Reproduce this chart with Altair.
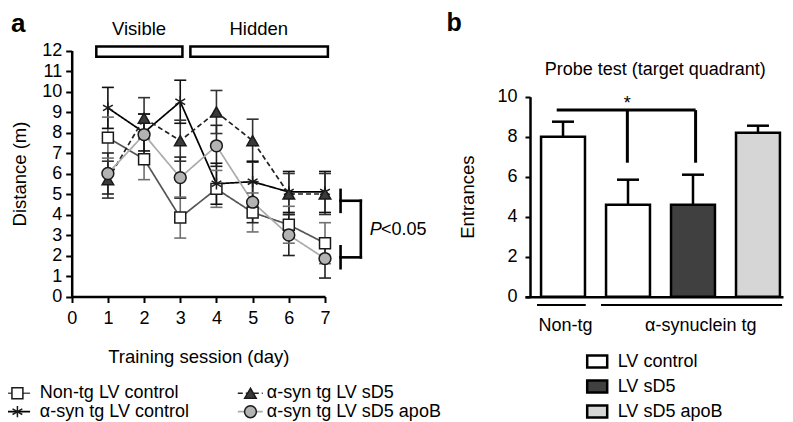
import altair as alt
import pandas as pd

FONT = "Liberation Sans"

# ---------------- panel a : water maze distance ----------------
days = [1, 2, 3, 4, 5, 6, 7]
x_ticks_a = [0, 1, 2, 3, 4, 5, 6, 7]
y_ticks_a = [0, 1, 2, 3, 4, 5, 6, 7, 8, 9, 10, 11, 12]
series = ["Non-tg LV control", "α-syn tg LV control", "α-syn tg LV sD5", "α-syn tg LV sD5 apoB"]

nontg_mean = [7.75, 6.7, 3.85, 5.25, 4.1, 3.5, 2.6]
nontg_err = [1.0, 1.0, 1.0, 0.9, 0.95, 0.9, 1.0]
syn_ctrl_mean = [9.2, 8.0, 9.5, 5.5, 5.6, 5.1, 5.1]
syn_ctrl_err = [1.0, 0.9, 1.05, 1.0, 1.0, 1.0, 1.0]
syn_sd5_mean = [5.7, 8.7, 7.6, 9.0, 7.6, 5.0, 5.0]
syn_sd5_err = [0.9, 1.0, 1.0, 1.05, 1.05, 1.0, 1.0]
syn_apob_mean = [6.0, 7.9, 5.8, 7.35, 4.6, 3.0, 1.85]
syn_apob_err = [1.0, 1.0, 1.0, 1.0, 1.0, 1.0, 0.95]

phase_labels = ["Visible", "Hidden"]
phase_start = [0.68, 3.28]
phase_end = [3.06, 7.08]

# ---------------- panel b : probe test ----------------
probe_pos = [1, 2, 3, 4]
probe_treat = ["LV control", "LV control", "LV sD5", "LV sD5 apoB"]
probe_mean = [8.0, 4.6, 4.6, 8.2]
probe_err = [0.75, 1.25, 1.5, 0.35]
treat_levels = ["LV control", "LV sD5", "LV sD5 apoB"]
group_labels = ["Non-tg", "α-synuclein tg"]

# ---------------- layout (pixels / data-unit placements) ----------------
W, H = 777, 414
xA = alt.Scale(domain=[0, 7], range=[63.7, 317], nice=False, zero=False)
yA = alt.Scale(domain=[0, 12], range=[288.5, 42.5], nice=False, zero=False)
xB = alt.Scale(domain=[0.415, 4.385], range=[517, 775], nice=False, zero=False)
yB = alt.Scale(domain=[0, 10], range=[288.7, 88.7], nice=False, zero=False)

axXA = alt.Axis(orient="bottom", offset=288.5 - H, values=x_ticks_a, title="Training session (day)",
                labelFlush=False, labelPadding=7, titlePadding=20, format="d")
axYA = alt.Axis(orient="left", offset=-63.7, values=y_ticks_a, title="Distance (m)",
                labelPadding=4, titlePadding=12, format="d")
axXB = alt.Axis(orient="bottom", offset=288.7 - H, labels=False, ticks=False, title=None)
axYB = alt.Axis(orient="left", offset=-522, values=[0, 2, 4, 6, 8, 10], title="Entrances",
                labelPadding=8, titlePadding=19, format="d", tickSize=5)


def XA(f):
    return alt.X(f, type="quantitative", scale=xA, axis=axXA)


def YA(f):
    return alt.Y(f, type="quantitative", scale=yA, axis=axYA)


def XB(f):
    return alt.X(f, type="quantitative", scale=xB, axis=axXB)


def YB(f):
    return alt.Y(f, type="quantitative", scale=yB, axis=axYB)


# ---- panel a tables
rows = []
for s, m, e in zip(series,
                   [nontg_mean, syn_ctrl_mean, syn_sd5_mean, syn_apob_mean],
                   [nontg_err, syn_ctrl_err, syn_sd5_err, syn_apob_err]):
    for d, mv, ev in zip(days, m, e):
        rows.append(dict(series=s, day=d, mean=mv, lo=mv - ev, hi=mv + ev))
dfa = pd.DataFrame(rows)

line_stroke = alt.Scale(domain=series, range=["#555555", "#000000", "#222222", "#ababab"])
line_dash = alt.Scale(domain=series, range=[[1, 0], [1, 0], [5, 3], [1, 0]])
line_width = alt.Scale(domain=series, range=[1.7, 1.7, 1.7, 3.2])
eb_color = alt.Scale(domain=series, range=["#707070", "#111111", "#333333", "#222222"])
asterisk = "M0,-1V1M-0.87,-0.5L0.87,0.5M-0.87,0.5L0.87,-0.5"
pt_shape = alt.Scale(domain=series, range=["square", asterisk, "triangle-up", "circle"])
pt_fill = alt.Scale(domain=series, range=["#ffffff", "#ffffff", "#3a3a3a", "#b3b3b3"])
pt_size = alt.Scale(domain=series, range=[120, 140, 120, 160])

enc_line = dict(
    stroke=alt.Stroke("series:N", scale=line_stroke, legend=None),
    strokeDash=alt.StrokeDash("series:N", scale=line_dash, legend=None),
    strokeWidth=alt.StrokeWidth("series:N", scale=line_width, legend=None),
)
enc_pt = dict(
    shape=alt.Shape("series:N", scale=pt_shape, legend=None),
    fill=alt.Fill("series:N", scale=pt_fill, legend=None),
    size=alt.Size("series:N", scale=pt_size, legend=None),
)

base_a = alt.Chart(dfa)
lines_a = base_a.mark_line().encode(x=XA("day"), y=YA("mean"), **enc_line)
eb_a = base_a.mark_rule(strokeWidth=1.6).encode(
    x=XA("day"), y=YA("lo"), y2="hi", color=alt.Color("series:N", scale=eb_color, legend=None))
cap_lo = base_a.mark_rule(strokeWidth=1.6, xOffset=-6, x2Offset=6).encode(
    x=XA("day"), x2="day", y=YA("lo"), color=alt.Color("series:N", scale=eb_color, legend=None))
cap_hi = base_a.mark_rule(strokeWidth=1.6, xOffset=-6, x2Offset=6).encode(
    x=XA("day"), x2="day", y=YA("hi"), color=alt.Color("series:N", scale=eb_color, legend=None))
pts_a = base_a.mark_point(filled=True, stroke="#1a1a1a", strokeWidth=1.5, opacity=1).encode(
    x=XA("day"), y=YA("mean"), **enc_pt)

# phase boxes
dfp = pd.DataFrame(dict(label=phase_labels, x1=phase_start, x2=phase_end,
                        y1=[11.7, 11.7], y2=[12.2, 12.2], tx=[1.86, 5.17], ty=[13.05, 13.05]))
boxes = alt.Chart(dfp).mark_rect(fill="white", stroke="black", strokeWidth=2.5).encode(
    x=XA("x1"), x2="x2", y=YA("y1"), y2="y2")
box_txt = alt.Chart(dfp).mark_text(font=FONT, fontSize=18.5, baseline="middle").encode(
    x=XA("tx"), y=YA("ty"), text="label")

# significance bracket for panel a
dfbr = pd.DataFrame(dict(x1=[7.43, 7.43, 7.43, 7.43, 7.99], x2=[7.43, 7.43, 7.99, 7.99, 7.99],
                         y1=[4.13, 1.38, 4.67, 1.91, 1.91], y2=[5.2, 2.45, 4.67, 1.91, 4.67]))
bracket_a = alt.Chart(dfbr).mark_rule(stroke="black", strokeWidth=2.6, strokeCap="square").encode(
    x=XA("x1"), x2="x2", y=YA("y1"), y2="y2")
dfpv = pd.DataFrame(dict(t=["P", "<0.05"], x=[8.24, 8.55], y=[3.24, 3.24], it=["italic", "normal"]))
p_txt = alt.Chart(dfpv).transform_filter("datum.it == 'italic'").mark_text(
    font=FONT, fontSize=18, fontStyle="italic", align="left", baseline="middle").encode(
    x=XA("x"), y=YA("y"), text="t")
p_txt2 = alt.Chart(dfpv).transform_filter("datum.it == 'normal'").mark_text(
    font=FONT, fontSize=18, align="left", baseline="middle").encode(
    x=XA("x"), y=YA("y"), text="t")

# panel letter a
dfl_a = pd.DataFrame(dict(t=["a"], x=[-1.48], y=[13.3]))
letter_a = alt.Chart(dfl_a).mark_text(font=FONT, fontSize=26, fontWeight="bold", baseline="middle").encode(
    x=XA("x"), y=YA("y"), text="t")

# legend for panel a (placed in panel-a data units below the axis)
leg_rows = [-4.72, -5.62]
leg_cols = [(-1.85, -1.5, -1.15, -0.88), (4.59, 4.94, 5.28, 5.39)]
leg_slot = [(0, 0), (0, 1), (1, 0), (1, 1)]
lrows = []
for s, (c, r) in zip(series, leg_slot):
    x1, xc, x2, tx = leg_cols[c]
    lrows.append(dict(series=s, lx1=x1, lx2=x2, lxc=xc, tx=tx, ly=leg_rows[r]))
dfleg = pd.DataFrame(lrows)
leg_lines = alt.Chart(dfleg).mark_rule().encode(x=XA("lx1"), x2="lx2", y=YA("ly"), **enc_line)
leg_pts = alt.Chart(dfleg).mark_point(filled=True, stroke="#1a1a1a", strokeWidth=1.5, opacity=1).encode(
    x=XA("lxc"), y=YA("ly"), **enc_pt)
leg_txt = alt.Chart(dfleg).mark_text(font=FONT, fontSize=18, align="left", baseline="middle").encode(
    x=XA("tx"), y=YA("ly"), text="series")

layer_a = alt.layer(lines_a, eb_a, cap_lo, cap_hi, pts_a, boxes, box_txt, bracket_a, p_txt, p_txt2,
                    letter_a, leg_lines, leg_pts, leg_txt)

# ---- panel b
dfb = pd.DataFrame(dict(pos=probe_pos, treat=probe_treat, mean=probe_mean,
                        hi=[m + e for m, e in zip(probe_mean, probe_err)]))
dfb["x1"] = dfb["pos"] - 0.338
dfb["x2"] = dfb["pos"] + 0.338
dfb["base"] = 0.0

bars = alt.Chart(dfb).mark_bar(stroke="black", strokeWidth=2.5).encode(
    x=XB("x1"), x2="x2", y=YB("base"), y2="mean",
    fill=alt.Fill("treat:N", scale=alt.Scale(domain=treat_levels, range=["#ffffff", "#404040", "#d6d6d6"]),
                  legend=alt.Legend(title=None, orient="none", legendX=577.7, legendY=342,
                                    symbolType="M-1,-0.6H1V0.6H-1Z", symbolSize=400,
                                    symbolStrokeColor="black", symbolStrokeWidth=2.5,
                                    labelFont=FONT, labelFontSize=18, labelColor="black",
                                    labelOffset=9, rowPadding=2)))
eb_b = alt.Chart(dfb).mark_rule(stroke="black", strokeWidth=2.5).encode(x=XB("pos"), y=YB("mean"), y2="hi")
cap_b = alt.Chart(dfb).mark_rule(stroke="black", strokeWidth=2.5, xOffset=-11, x2Offset=11).encode(
    x=XB("pos"), x2="pos", y=YB("hi"))

dfsig = pd.DataFrame(dict(x1=[0.903, 1.99, 3.04], x2=[3.04, 1.99, 3.04], y1=[9.33, 6.7, 6.7], y2=[9.33, 9.33, 9.33]))
sig = alt.Chart(dfsig).mark_rule(stroke="black", strokeWidth=3).encode(x=XB("x1"), x2="x2", y=YB("y1"), y2="y2")
dfstar = pd.DataFrame(dict(t=["*"], x=[1.99], y=[9.4]))
star = alt.Chart(dfstar).mark_text(font=FONT, fontSize=18, baseline="alphabetic").encode(
    x=XB("x"), y=YB("y"), text="t")

dfg = pd.DataFrame(dict(label=group_labels, x1=[0.6, 1.585], x2=[1.35, 4.37], y=[-0.415, -0.415],
                        tx=[1.04, 3.12], ty=[-1.45, -1.45]))
grp_lines = alt.Chart(dfg).mark_rule(stroke="black", strokeWidth=1.8).encode(x=XB("x1"), x2="x2", y=YB("y"))
grp_txt = alt.Chart(dfg).mark_text(font=FONT, fontSize=18, baseline="middle").encode(
    x=XB("tx"), y=YB("ty"), text="label")

dft = pd.DataFrame(dict(t=["Probe test (target quadrant)", "b"], x=[2.42, -0.677], y=[11.33, 13.7],
                        w=["normal", "bold"]))
title_b = alt.Chart(dft).transform_filter("datum.w == 'normal'").mark_text(
    font=FONT, fontSize=18, baseline="middle").encode(x=XB("x"), y=YB("y"), text="t")
letter_b = alt.Chart(dft).transform_filter("datum.w == 'bold'").mark_text(
    font=FONT, fontSize=25, fontWeight="bold", baseline="middle").encode(x=XB("x"), y=YB("y"), text="t")

layer_b = alt.layer(bars, eb_b, cap_b, sig, star, grp_lines, grp_txt, title_b, letter_b)

chart = alt.layer(layer_a, layer_b).resolve_scale(
    x="independent", y="independent", fill="independent"
).properties(
    width=W, height=H, autosize=alt.AutoSizeParams(type="none"), padding=0
).configure_view(stroke=None).configure_axis(
    grid=False, domainColor="black", domainWidth=2.5, tickColor="black", tickWidth=2, tickSize=6,
    labelFont=FONT, labelFontSize=18, labelColor="black",
    titleFont=FONT, titleFontSize=18.5, titleFontWeight="normal", titleColor="black"
)

chart.save("out.html", embed_options={"renderer": "svg", "actions": False})
